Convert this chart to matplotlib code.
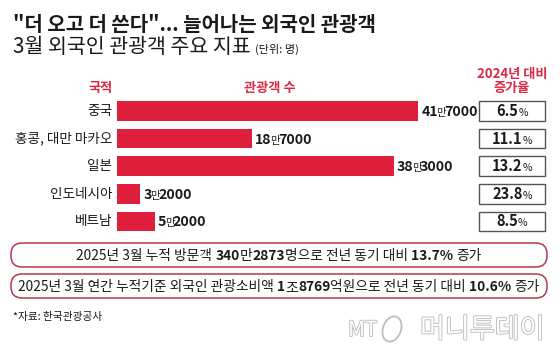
import matplotlib
matplotlib.use("Agg")
import matplotlib.pyplot as plt
import matplotlib.transforms as mtransforms
import matplotlib.patheffects as pe
from matplotlib.patches import FancyBboxPatch, Ellipse

# data
countries = ["중국", "홍콩, 대만 마카오", "일본", "인도네시아", "베트남"]
visitors = [417000, 187000, 383000, 32000, 52000]
growth = [6.5, 11.1, 13.2, 23.8, 8.5]

title = '"더 오고 더 쓴다"... 늘어나는 외국인 관광객'
subtitle = "3월 외국인 관광객 주요 지표"
unit = "(단위: 명)"
source = "*자료: 한국관광공사"

# summary lines: (text, bold?)
summary1 = [("2025년 3월 누적 방문객 ", False), ("340", True), ("만", False), ("2873", True),
            ("명으로 전년 동기 대비 ", False), ("13.7% ", True), ("증가", False)]
summary2 = [("2025년 3월 연간 누적기준 외국인 관광소비액 ", False), ("1", True), ("조", False),
            ("8769", True), ("억원으로 전년 동기 대비 ", False), ("10.6% ", True), ("증가", False)]

RED = "#e01f3d"
HEAD = "#d92a45"
DARK = "#1a1a1a"
FAM = ["Liberation Sans Narrow", "Noto Sans CJK KR", "DejaVu Sans"]

W, H = 560, 353
fig = plt.figure(figsize=(W / 100, H / 100), dpi=100)
fig.patch.set_facecolor("white")
PX = mtransforms.IdentityTransform()
renderer = fig.canvas.get_renderer()


def Y(y):
    return H - y


def text_width(s, size, weight):
    a = fig.text(0, 0, "|" + s + "|", transform=PX, fontsize=size, fontweight=weight, family=FAM)
    b = fig.text(0, 0, "||", transform=PX, fontsize=size, fontweight=weight, family=FAM)
    w = a.get_window_extent(renderer).width - b.get_window_extent(renderer).width
    a.remove()
    b.remove()
    return w


def pieces(x, y, parts, ha="left", color=DARK, tight=0):
    # parts: (string, size, weight); y = baseline, pixels from top
    widths = [text_width(s, sz, wt) - tight for s, sz, wt in parts]
    total = sum(widths)
    if ha == "center":
        x -= total / 2
    elif ha == "right":
        x -= total
    for (s, sz, wt), w in zip(parts, widths):
        fig.text(x, Y(y), s, transform=PX, fontsize=sz, fontweight=wt, family=FAM,
                 color=color, va="baseline", ha="left")
        x += w


# title block
fig.text(13, Y(31), title, transform=PX, fontsize=14.4, fontweight="bold", family=FAM,
         color=DARK, va="baseline")
pieces(13, 53, [(subtitle + " ", 14.8, "normal"), (unit, 8, "normal")])

# headers
hk = dict(transform=PX, fontsize=9.5, fontweight="bold", color=HEAD, family=FAM,
          ha="center", va="center")
fig.text(101, Y(88), "국적", **hk)
fig.text(270, Y(88), "관광객 수", **hk)
fig.text(512, Y(74), "2024년 대비", **hk)
fig.text(512, Y(88), "증가율", **hk)

# bars
x0, x1 = 117.3, 418.3
pitch = 27.6
top = 111 - pitch / 2
ax = fig.add_axes([x0 / W, Y(top + 5 * pitch) / H, (x1 - x0) / W, 5 * pitch / H])
ypos = list(range(len(countries)))
ax.barh(ypos, visitors, height=0.71, color=RED)
ax.set_xlim(0, max(visitors))
ax.set_ylim(len(countries) - 0.5, -0.5)
ax.axis("off")

for i, (name, v, g) in enumerate(zip(countries, visitors, growth)):
    cy = 111 + i * pitch
    fig.text(112.5, Y(cy), name, transform=PX, fontsize=9.8, family=FAM, color=DARK,
             ha="right", va="center")
    xe = ax.transData.transform((v, i))[0]
    pieces(xe + 3, cy + 5, [(str(v // 10000), 10.2, "bold"), ("만", 7.5, "normal"),
                            (f"{v % 10000:04d}", 10.2, "bold")], tight=1.5)
    # growth box
    box = FancyBboxPatch((479, Y(cy + 9.8)), 66.3, 19.6, boxstyle="square,pad=0",
                         transform=PX, fc="white", ec="#555555", lw=1.0)
    fig.patches.append(box)
    pieces(512, cy + 5, [(f"{g:.1f}", 10.5, "bold"), ("%", 7.5, "normal")], ha="center")

# summary boxes
for (yt, yb, parts) in [(243, 267, summary1), (274, 298, summary2)]:
    rb = FancyBboxPatch((11, Y(yb)), 536, yb - yt, boxstyle="round,pad=0,rounding_size=11",
                        transform=PX, fc="white", ec="#b8354b", lw=1.1)
    fig.patches.append(rb)
    cy = (yt + yb) / 2
    pieces(279, cy + 5, [(s, 9.9, "bold" if b else "normal") for s, b in parts], ha="center")

# source
fig.text(13, Y(317), source, transform=PX, fontsize=7.7, family=FAM, color=DARK, va="center")

# logo watermark
stroke = [pe.withStroke(linewidth=1.3, foreground="#bdbdbd")]
fig.text(348, Y(330), "MT", transform=PX, fontsize=15, style="italic", family=FAM,
         color="white", va="center", path_effects=stroke)
fig.patches.append(Ellipse((392, Y(329)), 18, 26, angle=-20, transform=PX, fill=False,
                           ec="#bdbdbd", lw=1.3))
fig.text(420, Y(330), "머니투데이", transform=PX, fontsize=19.5, family=FAM,
         color="white", va="center", path_effects=stroke)

fig.savefig("out.png", dpi=100, facecolor="white")
